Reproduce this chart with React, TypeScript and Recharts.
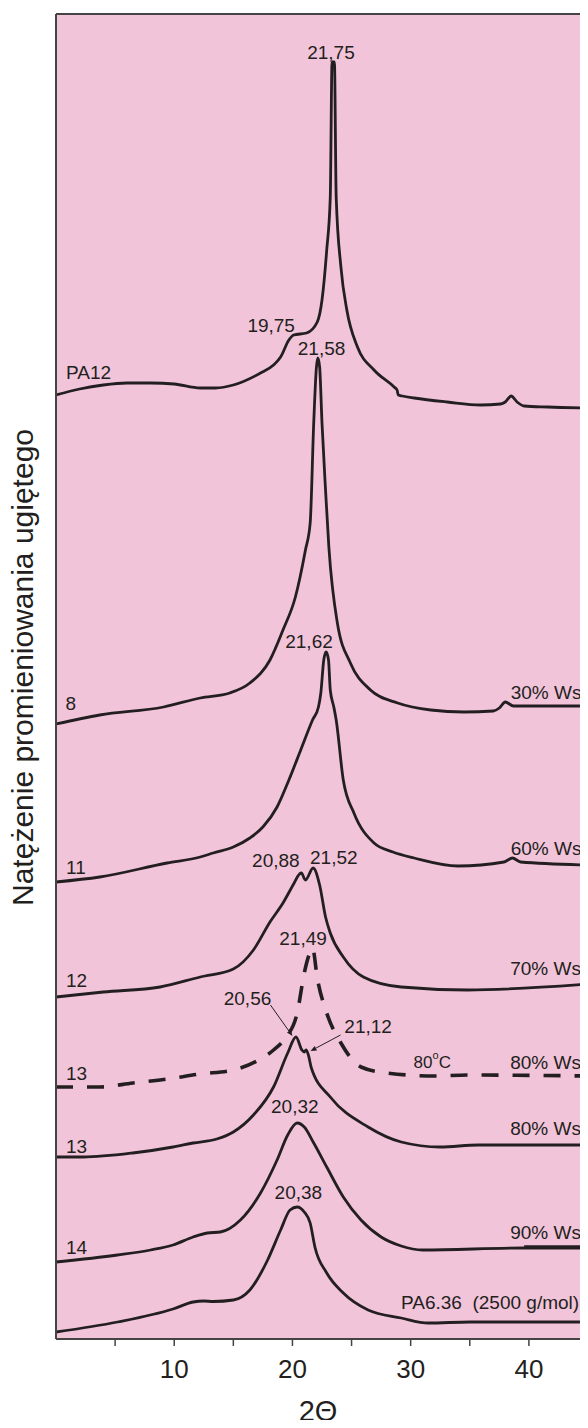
import React from 'react';
import {
  ComposedChart,
  Line,
  XAxis,
  YAxis,
  ReferenceArea,
  ReferenceLine,
  ReferenceDot,
} from 'recharts';

// 2Θ (deg) vs. intensity (arbitrary units, traces stacked with offsets)
const pa12: [number, number][] = [
  [0, 944], [2, 950], [4, 954], [6, 956], [8, 956], [10, 955], [12.2, 951], [13.5, 951],
  [15, 954], [17.3, 966], [18.4, 974], [19.0, 982], [19.7, 999], [20.1, 1004], [21.2, 1006],
  [22.1, 1017], [22.5, 1039], [22.9, 1089], [23.2, 1142], [23.35, 1277], [23.55, 1277],
  [23.7, 1142], [24.1, 1072], [24.6, 1029], [25.5, 992], [26.9, 969], [28.6, 952],
  [28.85, 949], [28.95, 944], [29.3, 943], [30.3, 941], [33.1, 937], [35.9, 934],
  [37.6, 935], [38.0, 937], [38.5, 943], [39.0, 937], [39.6, 933], [41.6, 932], [45, 931],
];

const s8: [number, number][] = [
  [0, 615], [3.7, 624], [9.1, 632], [12.2, 641], [14.7, 646], [16.4, 656], [18.1, 679],
  [19.2, 709], [20.25, 742], [21.1, 789], [21.5, 816], [21.8, 916], [22.03, 972], [22.15, 981],
  [22.3, 972], [22.5, 916], [22.8, 849], [23.08, 792], [23.8, 716], [24.9, 676], [26.6, 649],
  [28.9, 636], [31.7, 629], [34.5, 627], [37.0, 628], [37.5, 631], [38.0, 637], [38.7, 633],
  [45, 633],
];

const s11: [number, number][] = [
  [0, 457], [3.7, 462], [9.4, 476], [12.2, 482], [13.3, 486], [15, 492], [16.4, 501],
  [17.5, 512], [18.7, 532], [19.7, 559], [20.7, 589], [21.7, 619], [22.2, 632], [22.4, 646],
  [22.65, 679], [22.85, 687], [23.05, 679], [23.2, 649], [23.5, 632], [23.7, 619],
  [24.3, 559], [25.2, 526], [26.9, 496], [28.5, 487], [30.3, 481], [34, 473], [37.9, 477],
  [38.6, 481], [39.3, 477], [45, 474],
];

const s12: [number, number][] = [
  [0, 342], [4, 347], [8.8, 352], [12.2, 362], [15, 370], [16.7, 389], [18.1, 417],
  [19.2, 436], [20.1, 455], [20.6, 465], [20.75, 466], [21.1, 459], [21.75, 471],
  [22.3, 454], [22.8, 422], [23.2, 406], [24.3, 382], [26.0, 362], [29.2, 352],
  [34.8, 349], [45, 355],
];

const s13hot: [number, number][] = [
  [0, 252], [3.7, 252], [6.5, 256], [9.4, 260], [12.2, 265], [15, 269], [17, 278],
  [18.4, 289], [19.4, 301], [20.4, 326], [21.0, 366], [21.4, 384], [21.7, 391],
  [22.1, 361], [22.9, 326], [24.1, 296], [25.8, 272], [28.0, 266], [32, 263],
  [34.8, 264], [45, 263],
];

const s13: [number, number][] = [
  [0, 182], [2.3, 182], [6.5, 186], [9.9, 192], [11.6, 196], [13.6, 200], [15, 207],
  [16.7, 224], [18.4, 252], [19.6, 286], [20.3, 302], [20.8, 289], [21.0, 287],
  [21.15, 289], [21.35, 284], [21.6, 271], [23.2, 242], [26.4, 212], [29.2, 197],
  [32.5, 192], [35.7, 194], [45, 194],
];

const s14: [number, number][] = [
  [0, 77], [5.2, 84], [8, 89], [9.9, 94], [11.6, 102], [12.8, 106], [13.9, 107],
  [15.6, 119], [17.3, 146], [18.7, 179], [19.6, 204], [20.4, 216], [21.0, 212],
  [21.8, 196], [22.9, 172], [24.3, 142], [25.8, 119], [27.5, 102], [29.2, 93],
  [31, 89], [39.6, 91], [44.8, 91],
];

const s14mark: [number, number][] = [[39.6, 92], [44.8, 92]];

const pa636: [number, number][] = [
  [0, 7], [5.2, 17], [9.9, 30], [11.6, 37], [12.5, 38], [13.3, 37.5], [15, 39],
  [16.4, 49], [17.9, 79], [19.0, 109], [19.8, 129], [20.4, 132], [21.0, 127],
  [21.5, 116], [21.9, 92], [22.9, 66], [24.3, 46], [26.4, 29], [29.2, 21],
  [31.5, 16], [35, 17], [45, 17],
];

const xTicks = [5, 10, 15, 20, 25, 30, 35, 40];

const leftLabels = [
  { t: 'PA12', x: 0.85, y: 967 },
  { t: '8', x: 0.8, y: 636 },
  { t: '11', x: 0.85, y: 472 },
  { t: '12', x: 0.85, y: 359 },
  { t: '13', x: 0.85, y: 266 },
  { t: '13', x: 0.85, y: 193 },
  { t: '14', x: 0.85, y: 92 },
];

const rightLabels = [
  { t: '30% Ws', x: 44.45, y: 647 },
  { t: '60% Ws', x: 44.45, y: 491 },
  { t: '70% Ws', x: 44.4, y: 371 },
  { t: '80% Ws', x: 44.4, y: 277 },
  { t: '80% Ws', x: 44.4, y: 211 },
  { t: '90% Ws', x: 44.4, y: 107 },
  { t: 'PA6.36  (2500 g/mol)', x: 44.25, y: 37 },
];

const peakLabels = [
  { t: '21,75', x: 23.26, y: 1287 },
  { t: '19,75', x: 18.2, y: 1014 },
  { t: '21,58', x: 22.46, y: 991 },
  { t: '21,62', x: 21.4, y: 698 },
  { t: '20,88', x: 18.6, y: 479 },
  { t: '21,52', x: 23.5, y: 482 },
  { t: '21,49', x: 20.9, y: 401 },
  { t: '20,56', x: 16.2, y: 341 },
  { t: '21,12', x: 26.4, y: 313 },
  { t: '20,32', x: 20.2, y: 233 },
  { t: '20,38', x: 20.5, y: 147 },
];

const arrows = [
  { x1: 18.14, y1: 334, x2: 20.0, y2: 303 },
  { x1: 24.07, y1: 304, x2: 21.53, y2: 288 },
];

const tempLabel = { x: 30.25, y: 277 };

const INK = '#231F20';
const PINK = '#F2C4DA';
const BORDER = '#444444';
const FONT = "'Liberation Sans', Arial, Helvetica, sans-serif";

const toPts = (arr: [number, number][]) => arr.map(([x, y]) => ({ x, y }));

const makeLabel = (text: string, anchor: 'start' | 'middle' | 'end', size = 19) =>
  (props: any) => {
    const vb = props.viewBox || {};
    return (
      <text
        x={vb.x}
        y={vb.y}
        textAnchor={anchor}
        dominantBaseline="central"
        fontSize={size}
        fontFamily={FONT}
        fill={INK}
        style={{ whiteSpace: 'pre' }}
      >
        {text}
      </text>
    );
  };

const tempContent = (props: any) => {
  const vb = props.viewBox || {};
  return (
    <text x={vb.x} y={vb.y} dominantBaseline="central" fontSize={17} fontFamily={FONT} fill={INK}>
      80
      <tspan fontSize={11} dy={-7}>o</tspan>
      <tspan dy={7}>C</tspan>
    </text>
  );
};

const arrowShape = (props: any) => {
  const { x1, y1, x2, y2 } = props;
  const dx = x2 - x1;
  const dy = y2 - y1;
  const len = Math.sqrt(dx * dx + dy * dy) || 1;
  const ux = dx / len;
  const uy = dy / len;
  const hl = 6;
  const hw = 2.5;
  const bx = x2 - ux * hl;
  const by = y2 - uy * hl;
  const p = `${x2},${y2} ${bx - uy * hw},${by + ux * hw} ${bx + uy * hw},${by - ux * hw}`;
  return (
    <g>
      <line x1={x1} y1={y1} x2={bx} y2={by} stroke={INK} strokeWidth={1} />
      <polygon points={p} fill={INK} />
    </g>
  );
};

const XTick = (props: any) => {
  const { x, y, payload } = props;
  if (payload.value % 10 !== 0) return <g />;
  return (
    <text x={x} y={y} dy={30} textAnchor="middle" fontSize={26} fontFamily={FONT} fill={INK}>
      {payload.value}
    </text>
  );
};

const XLabel = (props: any) => {
  const vb = props.viewBox || {};
  return (
    <text
      x={vb.x + vb.width / 2 - 4}
      y={vb.y + 82}
      textAnchor="middle"
      fontSize={29}
      fontFamily={FONT}
      fill={INK}
    >
      2Θ
    </text>
  );
};

const YLabel = (props: any) => {
  const vb = props.viewBox || {};
  const cx = 33;
  const cy = vb.y + vb.height / 2 - 9;
  return (
    <text
      x={cx}
      y={cy}
      transform={`rotate(-90 ${cx} ${cy})`}
      textAnchor="middle"
      fontSize={30}
      fontFamily={FONT}
      fill={INK}
    >
      Natężenie promieniowania ugiętego
    </text>
  );
};

const solidSeries = [
  { key: 'pa12', data: pa12 },
  { key: 's8', data: s8 },
  { key: 's11', data: s11 },
  { key: 's12', data: s12 },
  { key: 's13', data: s13 },
  { key: 's14', data: s14 },
  { key: 'pa636', data: pa636 },
];

export default function App() {
  return (
    <div style={{ margin: -8, width: 588, height: 1428 }}>
      <ComposedChart
        width={588}
        height={1428}
        margin={{ top: 14, right: 0, left: 0, bottom: 29 }}
      >
        <XAxis
          type="number"
          dataKey="x"
          domain={[0, 45]}
          ticks={xTicks}
          tick={<XTick />}
          tickSize={7}
          tickLine={{ stroke: BORDER, strokeWidth: 1.5 }}
          axisLine={{ stroke: BORDER, strokeWidth: 2 }}
          height={60}
          allowDataOverflow
          label={<XLabel />}
        />
        <YAxis
          type="number"
          dataKey="y"
          domain={[0, 1325]}
          width={56}
          tick={false}
          tickLine={false}
          axisLine={{ stroke: BORDER, strokeWidth: 2 }}
          allowDataOverflow
          label={<YLabel />}
        />
        <ReferenceArea x1={0} x2={45} y1={0} y2={1325} fill={PINK} fillOpacity={1} stroke="none" />
        <ReferenceLine y={1325} stroke={BORDER} strokeWidth={2} />

        {solidSeries.map((s) => (
          <Line
            key={s.key}
            data={toPts(s.data)}
            dataKey="y"
            type="monotone"
            stroke={INK}
            strokeWidth={2.8}
            dot={false}
            activeDot={false}
            isAnimationActive={false}
          />
        ))}
        <Line
          data={toPts(s13hot)}
          dataKey="y"
          type="monotone"
          stroke={INK}
          strokeWidth={3.6}
          strokeDasharray="17 14"
          dot={false}
          activeDot={false}
          isAnimationActive={false}
        />
        <Line
          data={toPts(s14mark)}
          dataKey="y"
          type="linear"
          stroke={INK}
          strokeWidth={3.6}
          dot={false}
          activeDot={false}
          isAnimationActive={false}
        />

        {arrows.map((a, i) => (
          <ReferenceLine
            key={`ar${i}`}
            segment={[{ x: a.x1, y: a.y1 }, { x: a.x2, y: a.y2 }]}
            shape={arrowShape}
          />
        ))}

        {leftLabels.map((l, i) => (
          <ReferenceDot key={`l${i}`} x={l.x} y={l.y} r={0} fill="none" stroke="none" label={makeLabel(l.t, 'start')} />
        ))}
        {rightLabels.map((l, i) => (
          <ReferenceDot key={`r${i}`} x={l.x} y={l.y} r={0} fill="none" stroke="none" label={makeLabel(l.t, 'end')} />
        ))}
        {peakLabels.map((l, i) => (
          <ReferenceDot key={`p${i}`} x={l.x} y={l.y} r={0} fill="none" stroke="none" label={makeLabel(l.t, 'middle')} />
        ))}
        <ReferenceDot x={tempLabel.x} y={tempLabel.y} r={0} fill="none" stroke="none" label={tempContent} />
      </ComposedChart>
    </div>
  );
}
